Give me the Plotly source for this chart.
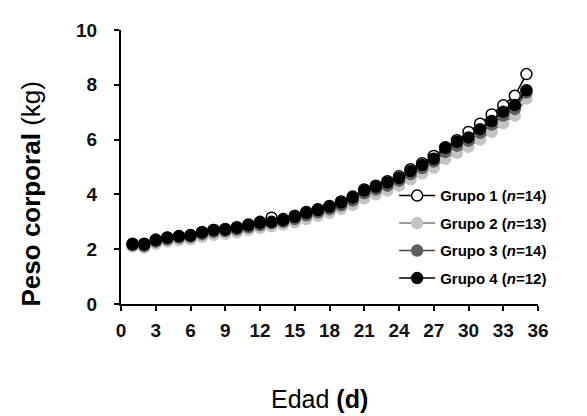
import plotly.graph_objects as go

days = list(range(1, 36))

grupo1 = [2.20, 2.20, 2.35, 2.43, 2.48, 2.52, 2.62, 2.70, 2.74, 2.80, 2.90, 3.00, 3.15, 3.10, 3.22,
          3.36, 3.46, 3.58, 3.74, 3.92, 4.18, 4.32, 4.48, 4.66, 4.92, 5.14, 5.40, 5.72, 5.98, 6.28,
          6.58, 6.92, 7.25, 7.60, 8.39]
grupo2 = [2.10, 2.06, 2.20, 2.28, 2.33, 2.36, 2.45, 2.52, 2.56, 2.62, 2.70, 2.78, 2.84, 2.90, 2.98,
          3.10, 3.22, 3.33, 3.47, 3.62, 3.86, 4.00, 4.14, 4.32, 4.55, 4.76, 4.98, 5.30, 5.52, 5.74,
          6.00, 6.28, 6.60, 6.88, 7.50]
grupo3 = [2.15, 2.12, 2.28, 2.36, 2.42, 2.45, 2.55, 2.63, 2.66, 2.72, 2.80, 2.88, 2.95, 3.00, 3.10,
          3.24, 3.35, 3.46, 3.60, 3.78, 4.04, 4.18, 4.32, 4.50, 4.74, 4.96, 5.20, 5.55, 5.78, 5.96,
          6.25, 6.55, 6.88, 7.12, 7.72]
grupo4 = [2.18, 2.17, 2.33, 2.42, 2.47, 2.50, 2.62, 2.70, 2.72, 2.78, 2.87, 2.96, 3.00, 3.06, 3.18,
          3.33, 3.43, 3.55, 3.70, 3.88, 4.14, 4.28, 4.43, 4.60, 4.85, 5.07, 5.30, 5.70, 5.92, 6.08,
          6.38, 6.68, 7.02, 7.26, 7.80]

names = ["<b>Grupo 1 (<i>n</i>=14)</b>", "<b>Grupo 2 (<i>n</i>=13)</b>",
         "<b>Grupo 3 (<i>n</i>=14)</b>", "<b>Grupo 4 (<i>n</i>=12)</b>"]
series = [grupo1, grupo2, grupo3, grupo4]
fills = ["white", "#c4c4c4", "#5e5e5e", "black"]
lines = ["black", "#7a7a7a", "#4a4a4a", "black"]

x_ticks = list(range(0, 37, 3))
y_ticks = list(range(0, 11, 2))

FONT = "Liberation Sans, Arial, sans-serif"

fig = go.Figure()
for i, (name, ys, fc, lc) in enumerate(zip(names, series, fills, lines)):
    fig.add_trace(go.Scatter(
        x=days, y=ys, name=name, mode="lines+markers", legendgroup=f"g{i}",
        line=dict(color=lc, width=1.5),
        marker=dict(size=11, color=fc,
                    line=dict(color="black" if fc in ("white", "black") else fc, width=1.5)),
    ))

fig.update_layout(
    width=587, height=416,
    margin=dict(l=113, r=57, t=17, b=120),
    paper_bgcolor="white", plot_bgcolor="white",
    font=dict(family=FONT, color="black"),
    showlegend=True,
    legend=dict(
        x=0.655, y=0.455, xanchor="left", yanchor="top",
        font=dict(family=FONT, size=15, color="black"),
        bgcolor="rgba(0,0,0,0)", tracegroupgap=5, itemwidth=36,
    ),
    xaxis=dict(
        range=[0, 36], tickvals=x_ticks, ticktext=[f"<b>{v}</b>" for v in x_ticks],
        showline=True, linecolor="black", linewidth=2, ticks="outside", ticklen=5,
        tickwidth=1.5, tickcolor="black", showgrid=False, zeroline=False,
        tickfont=dict(family=FONT, size=19, color="#111111"), ticklabelstandoff=3,
    ),
    yaxis=dict(
        range=[0, 10], tickvals=y_ticks, ticktext=[f"<b>{v}</b>" for v in y_ticks],
        showline=True, linecolor="black", linewidth=2, ticks="outside", ticklen=5,
        tickwidth=1.5, tickcolor="black", showgrid=False, zeroline=False,
        tickfont=dict(family=FONT, size=19, color="#111111"), ticklabelstandoff=13,
    ),
)

fig.add_annotation(
    text="<b>Peso corporal</b> (kg)", xref="paper", yref="paper",
    x=-0.215, y=0.401, textangle=-90, showarrow=False,
    font=dict(family=FONT, size=26, color="black"), xanchor="center", yanchor="middle",
)
fig.add_annotation(
    text="Edad <b>(d)</b>", xref="paper", yref="paper",
    x=0.475, y=-0.345, showarrow=False,
    font=dict(family=FONT, size=25, color="black"), xanchor="center", yanchor="middle",
)

fig.write_html("out.html")
